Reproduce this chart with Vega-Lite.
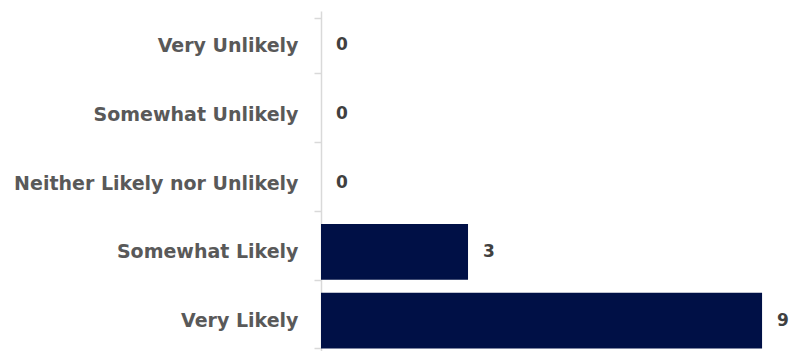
{
  "$schema": "https://vega.github.io/schema/vega-lite/v6.json",
  "autosize": "none",
  "width": 469,
  "height": 344,
  "padding": {"left": 321, "top": 11, "right": 0, "bottom": 0},
  "background": "white",
  "config": {"view": {"stroke": null}, "font": "DejaVu Sans"},
  "data": {"values": [
    {"response": "Very Unlikely", "count": 0},
    {"response": "Somewhat Unlikely", "count": 0},
    {"response": "Neither Likely nor Unlikely", "count": 0},
    {"response": "Somewhat Likely", "count": 3},
    {"response": "Very Likely", "count": 9}
  ]},
  "encoding": {
    "y": {"field": "response", "type": "nominal", "sort": null,
      "scale": {"paddingInner": 0.19, "paddingOuter": 0.095},
      "axis": {"title": null, "domainColor": "#d9d9d9", "domainWidth": 1.5, "tickColor": "#d9d9d9", "tickWidth": 1.5, "tickSize": 7, "tickBand": "extent",
        "labelFont": "DejaVu Sans", "labelFontWeight": "bold", "labelFontSize": 19, "labelColor": "#595959", "labelPadding": 16, "labelLimit": 400}},
    "x": {"field": "count", "type": "quantitative", "scale": {"domain": [0, 9.57], "nice": false}, "axis": null}
  },
  "layer": [
    {"mark": {"type": "bar", "color": "#001046"}},
    {"mark": {"type": "text", "align": "left", "dx": 15, "font": "DejaVu Sans", "fontWeight": "bold", "fontSize": 17, "color": "#404040"},
     "encoding": {"text": {"field": "count", "type": "quantitative"}}}
  ]
}
